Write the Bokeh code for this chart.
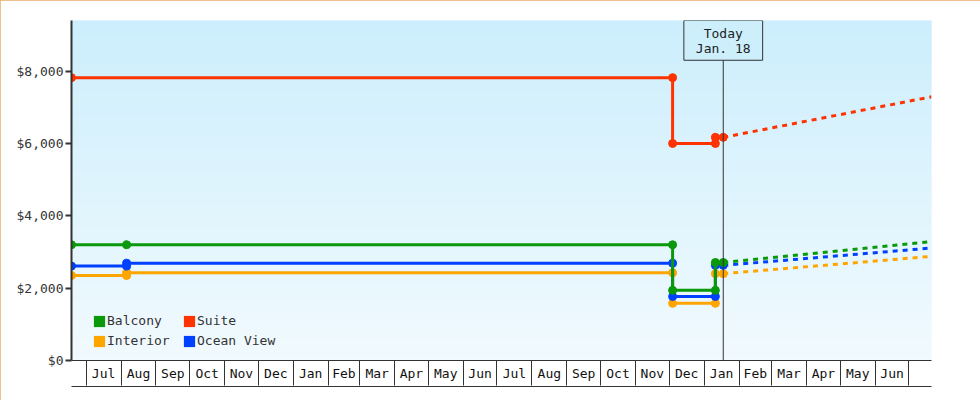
import numpy as np
import pandas as pd
from bokeh.plotting import figure
from bokeh.models import (Range1d, FixedTicker, NumeralTickFormatter, LinearAxis,
                          Span, Label, Legend, LegendItem)
from bokeh.embed import file_html
from bokeh.resources import INLINE

FONT = "DejaVu Sans Mono"

# ---------------- data ----------------
balcony_dates = ["2022-06-18", "2022-08-06", "2023-12-04", "2023-12-04",
                 "2024-01-11", "2024-01-11", "2024-01-18"]
balcony_prices = [3200, 3200, 3200, 1940, 1940, 2710, 2710]

suite_dates = ["2022-06-18", "2023-12-04", "2023-12-04", "2024-01-11",
               "2024-01-11", "2024-01-18"]
suite_prices = [7820, 7820, 6000, 6000, 6170, 6170]

interior_dates = ["2022-06-18", "2022-08-06", "2022-08-06", "2023-12-04",
                  "2023-12-04", "2024-01-11", "2024-01-11", "2024-01-18"]
interior_prices = [2350, 2350, 2425, 2425, 1580, 1580, 2400, 2400]

ocean_dates = ["2022-06-18", "2022-08-06", "2022-08-06", "2023-12-04",
               "2023-12-04", "2024-01-11", "2024-01-11", "2024-01-18"]
ocean_prices = [2610, 2610, 2690, 2690, 1770, 1770, 2630, 2630]

forecast_dates = ["2024-01-18", "2024-07-21"]
balcony_forecast = [2710, 3290]
suite_forecast = [6170, 7290]
interior_forecast = [2400, 2880]
ocean_forecast = [2630, 3110]

month_labels = ["Jul", "Aug", "Sep", "Oct", "Nov", "Dec", "Jan", "Feb", "Mar",
                "Apr", "May", "Jun", "Jul", "Aug", "Sep", "Oct", "Nov", "Dec",
                "Jan", "Feb", "Mar", "Apr", "May", "Jun"]
first_month = "2022-07-01"
x_start = "2022-06-18"
x_end = "2024-07-21"
today = "2024-01-18"
today_text = "Today\nJan. 18"
y_ticks = [0, 2000, 4000, 6000, 8000]
y_max = 9400

series = [
    ("Balcony", balcony_dates, balcony_prices, balcony_forecast, "#0a990a"),
    ("Suite", suite_dates, suite_prices, suite_forecast, "#ff3300"),
    ("Interior", interior_dates, interior_prices, interior_forecast, "#ffa500"),
    ("Ocean View", ocean_dates, ocean_prices, ocean_forecast, "#0040ff"),
]

# ---------------- figure ----------------
def ms(t):
    return int(pd.Timestamp(t).value // 10**6)

x0, x1 = ms(x_start), ms(x_end)
p = figure(width=980, height=400, output_backend="svg", toolbar_location=None,
           x_axis_type="datetime", x_range=Range1d(x0, x1), y_range=Range1d(0, y_max),
           min_border_left=71, min_border_right=49, min_border_top=20, min_border_bottom=40)
p.styles = {"position": "absolute", "left": "0px", "top": "0px",
            "outline": "2px solid #e9aa6c", "outline-offset": "-2px"}
p.outline_line_color = None
p.xgrid.visible = False
p.ygrid.visible = False
p.background_fill_color = "white"
p.border_fill_color = "white"

# background gradient
n = 170
edges = np.linspace(0, y_max, n + 1)
top_c = np.array([204, 238, 252])
bot_c = np.array([241, 250, 254])
cols = []
for i in range(n):
    f = (i + 0.5) / n
    c = bot_c + (top_c - bot_c) * f
    cols.append("#%02x%02x%02x" % tuple(int(round(v)) for v in c))
p.quad(left=x0, right=x1, bottom=edges[:-1], top=edges[1:], fill_color=cols,
       line_color=cols, line_width=1)

# today line
p.add_layout(Span(location=ms(today), dimension="height", line_color="#333333", line_width=1))

# series
legend_items = {}
order = ["Interior", "Ocean View", "Suite", "Balcony"]
sd = {s[0]: s for s in series}
for name in order:
    _, d, v, fc, color = sd[name]
    dd = pd.to_datetime(d)
    p.line(dd, v, line_color=color, line_width=3)
    p.scatter(dd, v, size=8, fill_color=color, line_color=color)
    p.line(pd.to_datetime(forecast_dates), fc, line_color=color, line_width=3, line_dash="5 5")
    legend_items[name] = p.quad(left=[np.nan], right=[np.nan], top=[np.nan], bottom=[np.nan],
                                fill_color=color, line_color=None)

# today box
p.add_layout(Label(x=ms(today), y=y_max, text=today_text, text_align="center",
                   text_baseline="top", y_offset=0, text_font=FONT, text_font_size="13px",
                   text_color="#222222", text_line_height=1.05,
                   padding=dict(left=12, right=12, top=5, bottom=4),
                   border_line_color="#333333", border_line_width=1,
                   background_fill_color="#cdeffc"))

# y axis
ya = p.yaxis[0]
ya.ticker = FixedTicker(ticks=y_ticks)
ya.formatter = NumeralTickFormatter(format="$0,0")
ya.axis_line_color = "#333333"
ya.axis_line_width = 2
ya.major_tick_line_color = "#333333"
ya.major_tick_line_width = 2
ya.major_tick_out = 6
ya.major_tick_in = 0
ya.minor_tick_line_color = None
ya.major_label_standoff = 2
ya.major_label_text_font = FONT
ya.major_label_text_font_size = "13px"
ya.major_label_text_color = "#333333"

# x axis: month cells
bounds = pd.date_range(first_month, periods=len(month_labels) + 1, freq="MS")
bms = [ms(b) for b in bounds]
mids = [(bms[i] + bms[i + 1]) // 2 for i in range(len(month_labels))]
xa = p.xaxis[0]
xa.ticker = FixedTicker(ticks=mids, minor_ticks=bms)
xa.major_label_overrides = {m: lab for m, lab in zip(mids, month_labels)}
xa.major_tick_line_color = None
xa.major_tick_out = 0
xa.major_tick_in = 0
xa.minor_tick_line_color = "#333333"
xa.minor_tick_out = 25
xa.minor_tick_in = 0
xa.axis_line_color = "#333333"
xa.axis_line_width = 1
xa.major_label_standoff = -20
xa.major_label_text_font = FONT
xa.major_label_text_font_size = "13px"
xa.major_label_text_color = "#111111"
xa.axis_label = " "
xa.axis_label_standoff = -5
xa.axis_label_text_font_size = "4px"

xb = LinearAxis(ticker=FixedTicker(ticks=[]), axis_line_color="#333333", axis_line_width=1,
                major_tick_line_color=None, minor_tick_line_color=None,
                major_tick_out=0, major_tick_in=0, major_label_standoff=0)
p.add_layout(xb, "below")

# legend
legend = Legend(items=[LegendItem(label=k, renderers=[legend_items[k]])
                       for k in ["Balcony", "Suite", "Interior", "Ocean View"]],
                location=(21, 12), orientation="horizontal", ncols=2,
                glyph_width=14, glyph_height=14, label_standoff=1, spacing=5,
                label_height=15, label_width=70, padding=0, margin=0,
                background_fill_alpha=0, border_line_color=None,
                label_text_font=FONT, label_text_font_size="13px",
                label_text_color="#333333")
p.add_layout(legend, "center")

open("out.html", "w").write(file_html(p, INLINE))
